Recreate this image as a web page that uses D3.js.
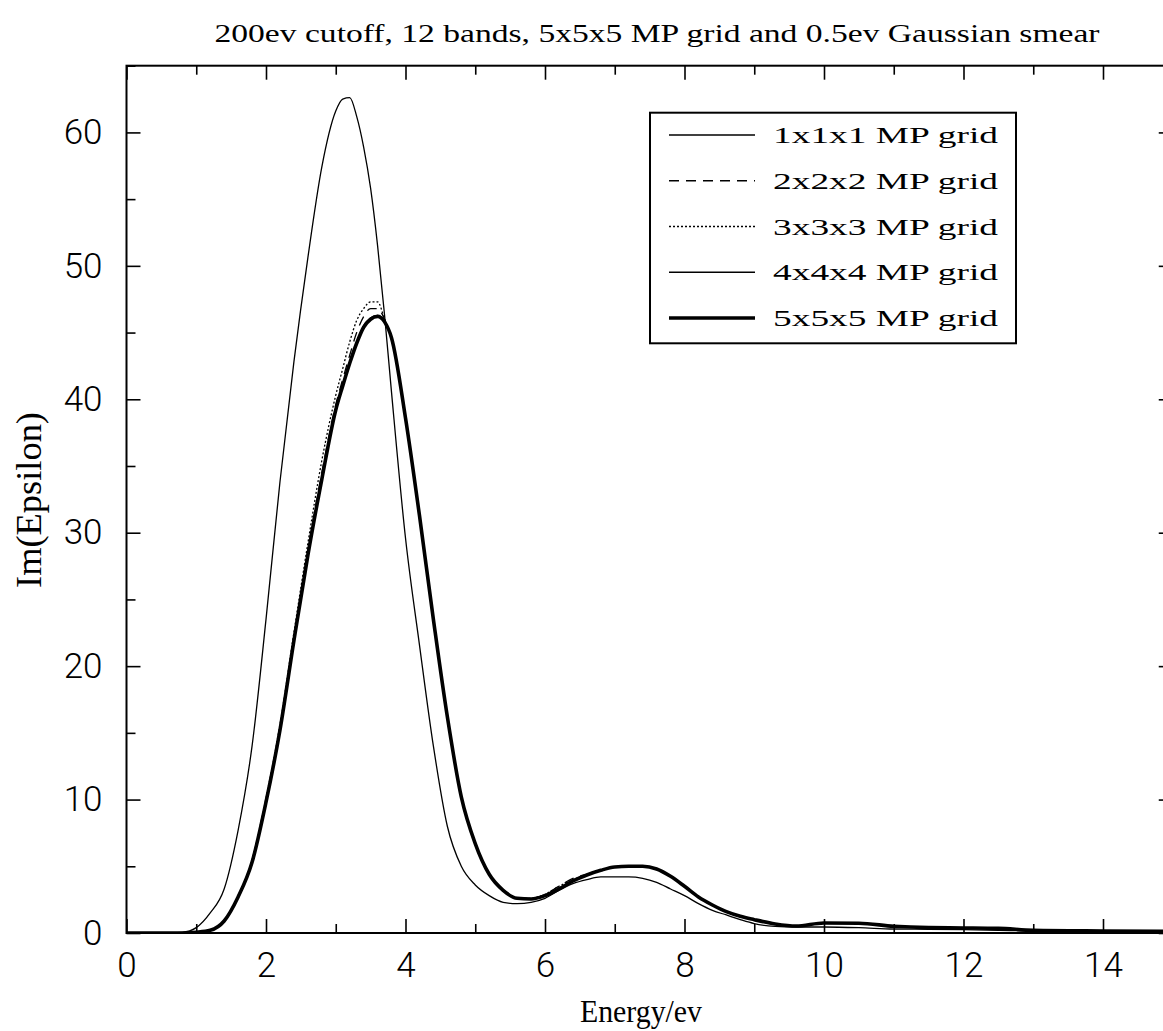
<!DOCTYPE html>
<html>
<head>
<meta charset="utf-8">
<script src="https://cdn.jsdelivr.net/npm/d3@7"></script>
<style>
  html, body { margin: 0; padding: 0; background: #fff; }
  svg { display: block; }
</style>
</head>
<body>
<svg id="chart" width="1163" height="1031"></svg>
<script>
// ---------- data ----------
const energy = [0, 0.5, 0.8, 1.0, 1.2, 1.4, 1.6, 1.8, 2.0, 2.2, 2.4, 2.6, 2.8, 3.0, 3.1, 3.2, 3.3, 3.4, 3.5, 3.6, 3.7, 3.8, 4.0, 4.2, 4.4, 4.6, 4.8, 5.0, 5.2, 5.4, 5.6, 5.8, 6.0, 6.2, 6.4, 6.6, 6.8, 7.0, 7.2, 7.4, 7.6, 7.8, 8.0, 8.2, 8.4, 8.6, 8.8, 9.0, 9.3, 9.6, 10.0, 10.5, 11.0, 11.5, 12.0, 12.5, 13.0, 14.0, 15.0];

const grid1x1x1 = [0, 0, 0.05, 0.4, 1.5, 3.3, 7.7, 14.0, 23.5, 33.8, 42.8, 50.6, 57.4, 61.6, 62.5, 62.6, 61.2, 58.9, 55.8, 51.5, 46.3, 40.5, 29.6, 21.6, 14.0, 8.0, 5.0, 3.6, 2.8, 2.3, 2.2, 2.3, 2.6, 3.2, 3.7, 4.0, 4.2, 4.2, 4.2, 4.1, 3.8, 3.3, 2.8, 2.2, 1.7, 1.35, 1.0, 0.7, 0.5, 0.45, 0.45, 0.4, 0.3, 0.28, 0.25, 0.2, 0.15, 0.1, 0.08];

const grid2x2x2 = [0, 0, 0, 0.05, 0.2, 0.9, 2.7, 5.4, 10.0, 15.4, 22.2, 28.7, 34.5, 39.6, 41.5, 43.3, 45.0, 46.2, 46.8, 46.8, 46.0, 44.6, 38.6, 31.3, 23.5, 16.2, 10.2, 6.7, 4.4, 3.2, 2.6, 2.6, 2.9, 3.5, 4.1, 4.4, 4.7, 4.95, 5.0, 5.0, 4.8, 4.25, 3.5, 2.7, 2.1, 1.6, 1.25, 1.0, 0.68, 0.52, 0.75, 0.73, 0.5, 0.4, 0.38, 0.35, 0.2, 0.15, 0.12];

const grid3x3x3 = [0, 0, 0, 0.05, 0.2, 0.9, 2.7, 5.5, 10.1, 15.6, 22.5, 29.2, 35.4, 40.3, 42.3, 44.3, 45.9, 46.8, 47.3, 47.3, 46.0, 44.5, 38.6, 31.3, 23.5, 16.2, 10.2, 6.7, 4.4, 3.2, 2.6, 2.6, 2.9, 3.5, 4.0, 4.35, 4.7, 4.95, 5.0, 5.0, 4.8, 4.25, 3.5, 2.7, 2.1, 1.6, 1.25, 1.0, 0.68, 0.52, 0.75, 0.73, 0.5, 0.4, 0.38, 0.35, 0.2, 0.15, 0.12];

const grid4x4x4 = [0, 0, 0, 0.05, 0.2, 0.9, 2.7, 5.3, 9.8, 15.2, 21.9, 28.3, 34.0, 39.2, 41.0, 42.8, 44.3, 45.5, 46.1, 46.3, 45.9, 44.6, 38.6, 31.3, 23.5, 16.2, 10.2, 6.7, 4.4, 3.2, 2.6, 2.55, 2.8, 3.3, 3.9, 4.35, 4.7, 4.95, 5.0, 5.0, 4.8, 4.25, 3.5, 2.7, 2.1, 1.6, 1.25, 1.0, 0.68, 0.52, 0.75, 0.73, 0.5, 0.4, 0.38, 0.35, 0.2, 0.15, 0.12];

const grid5x5x5 = [0, 0, 0, 0.05, 0.2, 0.9, 2.7, 5.3, 9.8, 15.2, 21.9, 28.3, 34.0, 39.2, 41.0, 42.7, 44.2, 45.4, 46.0, 46.2, 45.8, 44.6, 38.6, 31.3, 23.5, 16.2, 10.2, 6.7, 4.4, 3.2, 2.6, 2.55, 2.8, 3.3, 3.9, 4.35, 4.7, 4.95, 5.0, 5.0, 4.8, 4.25, 3.5, 2.7, 2.1, 1.6, 1.25, 1.0, 0.68, 0.52, 0.75, 0.73, 0.5, 0.4, 0.38, 0.35, 0.2, 0.15, 0.12];

const seriesNames = ["1x1x1 MP grid", "2x2x2 MP grid", "3x3x3 MP grid", "4x4x4 MP grid", "5x5x5 MP grid"];
const xMajorTicks = [0, 2, 4, 6, 8, 10, 12, 14];
const xMinorTicks = [1, 3, 5, 7, 9, 11, 13, 15];
const yMajorTicks = [0, 10, 20, 30, 40, 50, 60];
const yMinorTicks = [5, 15, 25, 35, 45, 55, 65];

const titleText = "200ev cutoff, 12 bands, 5x5x5 MP grid and 0.5ev Gaussian smear";
const xLabel = "Energy/ev";
const yLabel = "Im(Epsilon)";

// ---------- layout / styles ----------
const series = [
  { name: seriesNames[0], values: grid1x1x1, width: 1.3, dash: null },
  { name: seriesNames[1], values: grid2x2x2, width: 1.3, dash: "10,7" },
  { name: seriesNames[2], values: grid3x3x3, width: 1.3, dash: "2,2" },
  { name: seriesNames[3], values: grid4x4x4, width: 1.3, dash: null },
  { name: seriesNames[4], values: grid5x5x5, width: 3.6, dash: null }
];

const L = 126.5, R = 1172.75, T = 65.7, B = 933;
const svg = d3.select("#chart");

const x = d3.scaleLinear().domain([0, 15]).range([L, R]);
const y = d3.scaleLinear().domain([0, 65]).range([B, T]);

const serif = "'Liberation Serif', 'Times New Roman', serif";
const sans = "Roboto, 'Liberation Sans', Arial, sans-serif";

// Title
svg.append("text")
  .attr("x", 657).attr("y", 42)
  .attr("text-anchor", "middle")
  .attr("font-family", serif).attr("font-size", 25)
  .attr("textLength", 885).attr("lengthAdjust", "spacingAndGlyphs")
  .text(titleText);

// Curves (clipped to plot)
svg.append("clipPath").attr("id", "plotclip")
  .append("rect").attr("x", L).attr("y", T).attr("width", R - L).attr("height", B - T);

const line = d3.line().curve(d3.curveMonotoneX);
const gLines = svg.append("g").attr("clip-path", "url(#plotclip)");
series.forEach(s => {
  const pts = energy.map((e, i) => [x(e), y(s.values[i])]);
  gLines.append("path")
    .attr("d", line(pts))
    .attr("fill", "none")
    .attr("stroke", "#000")
    .attr("stroke-width", s.width)
    .attr("stroke-dasharray", s.dash)
    .attr("stroke-linejoin", "round");
});

// Frame
svg.append("rect")
  .attr("x", L).attr("y", T).attr("width", R - L).attr("height", B - T)
  .attr("fill", "none").attr("stroke", "#000").attr("stroke-width", 2);

// Axes via d3 (ticks drawn inward)
const bottomMajor = d3.axisBottom(x).tickValues(xMajorTicks).tickSize(-14).tickPadding(19).tickFormat(d3.format("d"));
const bottomMinor = d3.axisBottom(x).tickValues(xMinorTicks).tickSize(-9).tickFormat("");
const topMajor = d3.axisTop(x).tickValues(xMajorTicks).tickSize(-14).tickFormat("");
const topMinor = d3.axisTop(x).tickValues(xMinorTicks).tickSize(-9).tickFormat("");
const leftMajor = d3.axisLeft(y).tickValues(yMajorTicks).tickSize(-14).tickPadding(24).tickFormat(d3.format("d"));
const leftMinor = d3.axisLeft(y).tickValues(yMinorTicks).tickSize(-9).tickFormat("");
const rightMajor = d3.axisRight(y).tickValues(yMajorTicks).tickSize(-14).tickFormat("");
const rightMinor = d3.axisRight(y).tickValues(yMinorTicks).tickSize(-9).tickFormat("");

function styleAxis(g) {
  g.select(".domain").remove();
  g.selectAll(".tick line").attr("stroke", "#000").attr("stroke-width", 1.6);
  g.selectAll(".tick text")
    .attr("fill", "#000")
    .attr("font-family", sans)
    .attr("font-weight", 300)
    .attr("font-size", 35);
}

svg.append("g").attr("transform", `translate(0,${B})`).call(bottomMinor).call(styleAxis);
svg.append("g").attr("transform", `translate(0,${B})`).call(bottomMajor).call(styleAxis);
svg.append("g").attr("transform", `translate(0,${T})`).call(topMinor).call(styleAxis);
svg.append("g").attr("transform", `translate(0,${T})`).call(topMajor).call(styleAxis);
svg.append("g").attr("transform", `translate(${L},0)`).call(leftMinor).call(styleAxis);
svg.append("g").attr("transform", `translate(${L},0)`).call(leftMajor).call(styleAxis);
svg.append("g").attr("transform", `translate(${R},0)`).call(rightMinor).call(styleAxis);
svg.append("g").attr("transform", `translate(${R},0)`).call(rightMajor).call(styleAxis);

// Axis labels
svg.append("text")
  .attr("x", 641).attr("y", 1022)
  .attr("text-anchor", "middle")
  .attr("font-family", serif).attr("font-size", 32)
  .attr("textLength", 122).attr("lengthAdjust", "spacingAndGlyphs")
  .text(xLabel);

svg.append("text")
  .attr("transform", "translate(41,500) rotate(-90)")
  .attr("text-anchor", "middle")
  .attr("font-family", serif).attr("font-size", 36)
  .attr("textLength", 176).attr("lengthAdjust", "spacingAndGlyphs")
  .text(yLabel);

// Legend
const legend = svg.append("g");
legend.append("rect")
  .attr("x", 650).attr("y", 112.7).attr("width", 366).attr("height", 230.6)
  .attr("fill", "#fff").attr("stroke", "#000").attr("stroke-width", 2);
const rowY = d3.scalePoint().domain(seriesNames).range([135, 318]);
series.forEach(s => {
  const yy = rowY(s.name);
  legend.append("line")
    .attr("x1", 669).attr("x2", 755).attr("y1", yy).attr("y2", yy)
    .attr("stroke", "#000").attr("stroke-width", s.width)
    .attr("stroke-dasharray", s.dash);
  legend.append("text")
    .attr("x", 773).attr("y", yy + 8)
    .attr("font-family", serif).attr("font-size", 24)
    .attr("textLength", 225).attr("lengthAdjust", "spacingAndGlyphs")
    .text(s.name);
});
</script>
</body>
</html>
